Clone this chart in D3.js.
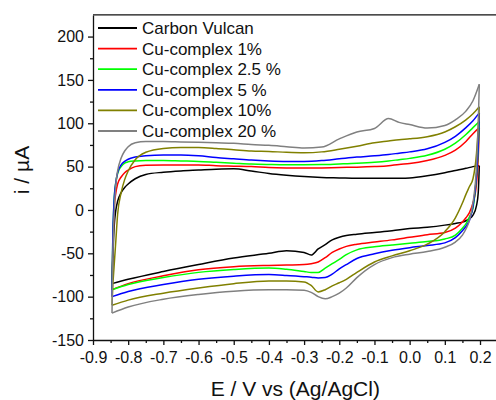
<!DOCTYPE html>
<html>

<head>
    <meta charset="utf-8">
    <title>CV</title>
    <script src="https://cdn.jsdelivr.net/npm/d3@7"></script>
    <style>
        body { margin: 0; background: #fff; }
        text { font-family: "Liberation Sans", Arial, sans-serif; }
    </style>
</head>

<body>
    <svg width="496" height="400" id="mainsvg"></svg>
    <script>
        // potential grid, forward (anodic) scan and reverse (cathodic) scan
        const E_UP = [-0.846, -0.844, -0.84, -0.835, -0.83, -0.82, -0.81, -0.80, -0.78, -0.75, -0.70, -0.65,
            -0.60, -0.55, -0.50, -0.45, -0.40, -0.35, -0.30, -0.25, -0.20, -0.15, -0.10, -0.06, -0.03,
            0.00, 0.05, 0.10, 0.13, 0.16, 0.18, 0.198];
        const E_DOWN = [0.195, 0.19, 0.18, 0.17, 0.16, 0.15, 0.13, 0.10, 0.05, 0.00, -0.05, -0.10, -0.15,
            -0.18, -0.20, -0.22, -0.24, -0.26, -0.28, -0.30, -0.35, -0.40, -0.50, -0.60, -0.70, -0.80, -0.846];

        const names = ['Carbon Vulcan', 'Cu-complex 1%', 'Cu-complex 2.5 %', 'Cu-complex 5 %', 'Cu-complex 10%', 'Cu-complex 20 %'];
        const colors = ['#000000', '#ff0000', '#00ff00', '#0000ff', '#808000', '#808080'];

        const vulcanUp = [-85, -60, -20, 0, 10, 20, 26, 30, 36, 41, 43.5, 45, 46, 47, 47.5, 45, 42, 40, 38.5, 37.5, 37, 36.5, 36.5, 36.5, 36.6, 37, 39.5, 43, 45.5, 48, 50, 51];
        const cu1Up = [-92, -50, 0, 20, 30, 38, 43, 46, 50, 51.5, 52, 52, 52, 51, 50.5, 50, 49, 48.5, 48.3, 48.5, 49, 49.3, 50, 51, 52.5, 53.5, 57, 63, 69, 79, 88, 95];
        const cu25Up = [-92, -40, 12, 32, 42, 50, 54, 55.5, 56.5, 57, 57, 56.5, 56, 55, 54, 53, 52.5, 52.2, 52.2, 52.3, 53, 53.8, 55, 56.5, 58, 59.5, 63, 70, 77, 87, 95, 102];
        const cu5Up = [-100, -40, 10, 32, 43, 52, 56, 58.5, 61, 62.5, 63.5, 63.5, 62.5, 60.5, 59, 57.5, 56.5, 56, 56, 57, 59, 61, 62.5, 64, 65.5, 67, 70.5, 78, 85, 95, 103, 112];
        const cu10Up = [-110, -90, -65, -35, -5, 20, 35, 45, 58, 66.5, 71, 72, 72, 71, 69.5, 68, 67.5, 66.5, 66, 67, 70, 73.5, 77.5, 79.5, 81, 82, 84.5, 90, 96, 104, 111, 119];
        const cu20Up = [-119, -60, -5, 30, 45, 60, 68, 73, 77.5, 79, 79, 78.5, 78, 77.5, 77, 75.5, 74.5, 73, 71.5, 72.5, 82, 90, 94, 105.5, 101, 98.5, 94.5, 97.5, 104, 114, 126, 145];

        const vulcanDown = [20, 5, -6, -10, -12.5, -14, -15.5, -17.5, -20, -21.5, -24, -26, -28, -29.5, -31.5, -34.5, -40, -45, -52, -49, -47, -50, -55.5, -63, -71, -80, -85];
        const cu1Down = [60, 30, 8, -3, -9, -14, -21, -26, -28.5, -31.5, -34.5, -37, -39.5, -42, -45, -49, -55, -60, -62, -63, -63.5, -64, -65.5, -69, -76, -85, -92];
        const cu25Down = [70, 40, 2, -8, -16, -21, -29, -33.5, -36.5, -38.5, -40.5, -42.5, -46, -51.5, -57, -62, -67, -72, -72, -71, -68.5, -67, -68.7, -72, -78, -86, -92];
        const cu5Down = [75, 40, 4, -12, -19, -24, -32, -38, -41, -43.5, -46.5, -50.5, -56, -63, -68, -74, -78, -78.5, -77.5, -77, -75.5, -74.5, -76.4, -80, -86, -94, -100];
        const cu10Down = [95, 65, 36, 27, 18, 8, -9, -25, -39.5, -47, -53, -60, -72, -80, -84, -87.5, -92, -94.5, -87, -83, -82, -82, -85, -90, -96, -104, -110];
        const cu20Down = [100, 50, 8, -12, -22, -29, -37, -43, -48, -51, -55, -63, -78, -90, -96, -100, -102.5, -100, -95, -92.5, -92, -92, -93.7, -97.5, -103, -112, -119];

        const ups = [vulcanUp, cu1Up, cu25Up, cu5Up, cu10Up, cu20Up];
        const downs = [vulcanDown, cu1Down, cu25Down, cu5Down, cu10Down, cu20Down];

        const xTicks = d3.range(-9, 3).map(d => d / 10);
        const yTicks = [-150, -100, -50, 0, 50, 100, 150, 200];

        const svg = d3.select('svg');
        const x = d3.scaleLinear().domain([-0.9, 0.25]).range([93, 497.6]);
        const y = d3.scaleLinear().domain([-150, 225]).range([340, 14.9]);

        const series = names.map((name, k) => {
            const up = E_UP.map((e, i) => [e, ups[k][i]]);
            // reverse scan starts at the switching point of the forward scan
            const down = [up[up.length - 1]].concat(E_DOWN.map((e, i) => [e, downs[k][i]]));
            return { name: name, color: colors[k], up: up, down: down.slice().reverse() };
        });

        const line = d3.line().x(d => x(d[0])).y(d => y(d[1])).curve(d3.curveMonotoneX);

        const loops = svg.selectAll('.cv').data(series).join('g').attr('class', 'cv')
            .attr('fill', 'none').attr('stroke', d => d.color)
            .attr('stroke-width', 1.5).attr('stroke-linejoin', 'round');
        loops.append('path').attr('d', d => line(d.down));
        loops.append('path').attr('d', d => line(d.up));

        // minor ticks
        svg.append('g').attr('transform', `translate(0,${y(-150)})`)
            .call(d3.axisBottom(x).tickValues(d3.range(-17, 5, 2).map(d => d / 20)).tickSize(3).tickFormat('').tickSizeOuter(0))
            .call(g => g.select('.domain').remove());
        svg.append('g').attr('transform', `translate(${x(-0.9)},0)`)
            .call(d3.axisLeft(y).tickValues(d3.range(-125, 225, 50)).tickSize(3).tickFormat('').tickSizeOuter(0))
            .call(g => g.select('.domain').remove());

        svg.append('g').attr('transform', `translate(0,${y(-150)})`)
            .call(d3.axisBottom(x).tickValues(xTicks).tickSize(5).tickPadding(7).tickSizeOuter(0)
                .tickFormat(d => d3.format('.1f')(d).replace('−', '-')));
        svg.append('g').attr('transform', `translate(${x(-0.9)},0)`)
            .call(d3.axisLeft(y).tickValues(yTicks).tickSize(5).tickPadding(4).tickSizeOuter(0)
                .tickFormat(d => String(d)));

        svg.selectAll('.tick text').attr('font-size', 16).attr('fill', '#111')
            .attr('font-family', '"Liberation Sans", Arial, sans-serif');
        svg.selectAll('.domain, .tick line').attr('stroke', '#111').attr('stroke-width', 1.3);

        // top border
        svg.append('line').attr('x1', x(-0.9)).attr('x2', 496).attr('y1', y(225)).attr('y2', y(225))
            .attr('stroke', '#111').attr('stroke-width', 1.3);

        svg.append('text').attr('x', (x(-0.9) + x(0.25)) / 2).attr('y', 396)
            .attr('text-anchor', 'middle').attr('font-size', 21).attr('fill', '#111')
            .text('E / V vs (Ag/AgCl)');
        svg.append('text').attr('transform', 'translate(29,170) rotate(-90)')
            .attr('text-anchor', 'middle').attr('font-size', 21).attr('fill', '#111')
            .text('i / µA');

        // legend
        const legend = svg.selectAll('.leg').data(series).join('g').attr('class', 'leg')
            .attr('transform', (d, i) => `translate(98,${28 + i * 20.6})`);
        legend.append('line').attr('x1', 0).attr('x2', 39).attr('y1', 0).attr('y2', 0)
            .attr('stroke', d => d.color).attr('stroke-width', 1.8);
        legend.append('text').attr('x', 44).attr('y', 6).attr('font-size', 17).attr('fill', '#111')
            .text(d => d.name);
    </script>
</body>

</html>
